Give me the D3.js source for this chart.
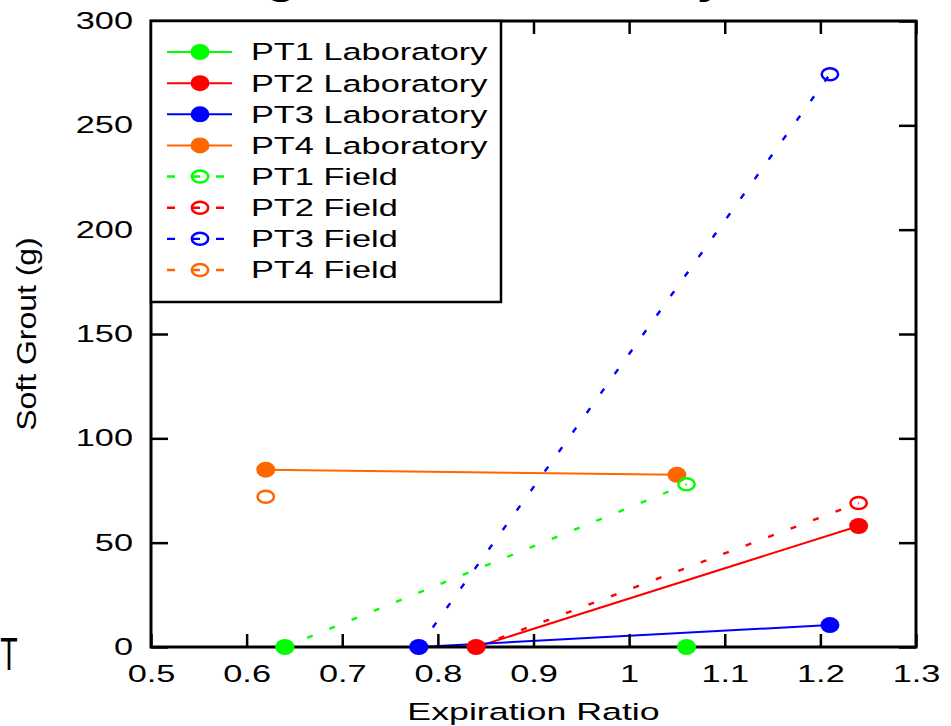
<!DOCTYPE html>
<html>
<head>
<meta charset="utf-8">
<script src="https://cdn.jsdelivr.net/npm/d3@7.9.0/dist/d3.min.js"></script>
<style>
  html, body { margin: 0; padding: 0; background: #fff; }
  svg { display: block; font-family: "Liberation Sans", Arial, sans-serif; }
</style>
</head>
<body>
<svg id="chart" width="951" height="726"></svg>
<script>
// ---- data ----
const seriesNames = ['PT1 Laboratory', 'PT2 Laboratory', 'PT3 Laboratory', 'PT4 Laboratory',
                     'PT1 Field', 'PT2 Field', 'PT3 Field', 'PT4 Field'];
const seriesColors = ['#00ff00', '#ff0000', '#0000ff', '#ff6600',
                      '#00ff00', '#ff0000', '#0000ff', '#ff6600'];
const seriesKind = ['lab', 'lab', 'lab', 'lab', 'field', 'field', 'field', 'field'];

const pt1LabX = [0.64, 1.06];   const pt1LabY = [0, 0];
const pt2LabX = [0.84, 1.24];   const pt2LabY = [0, 58];
const pt3LabX = [0.78, 1.21];   const pt3LabY = [0, 10.5];
const pt4LabX = [0.62, 1.05];   const pt4LabY = [85, 82.5];
const pt1FieldX = [0.64, 1.06]; const pt1FieldY = [0, 78];
const pt2FieldX = [0.84, 1.24]; const pt2FieldY = [0, 69];
const pt3FieldX = [0.78, 1.21]; const pt3FieldY = [0, 274.5];
const pt4FieldX = [0.62];       const pt4FieldY = [72];

const xTickValues = [0.5, 0.6, 0.7, 0.8, 0.9, 1.0, 1.1, 1.2, 1.3];
const xTickLabels = ['0.5', '0.6', '0.7', '0.8', '0.9', '1', '1.1', '1.2', '1.3'];
const yTickValues = [0, 50, 100, 150, 200, 250, 300];
const yTickLabels = ['0', '50', '100', '150', '200', '250', '300'];

const xs = [pt1LabX, pt2LabX, pt3LabX, pt4LabX, pt1FieldX, pt2FieldX, pt3FieldX, pt4FieldX];
const ys = [pt1LabY, pt2LabY, pt3LabY, pt4LabY, pt1FieldY, pt2FieldY, pt3FieldY, pt4FieldY];
const series = seriesNames.map((name, i) => ({
  name,
  color: seriesColors[i],
  kind: seriesKind[i],
  points: xs[i].map((x, j) => ({ x, y: ys[i][j] })),
}));

// ---- layout ----
const plot = { left: 151, right: 916, top: 21, bottom: 647 };
const FONT = 23.5;
const SX = 1.46; // text in the picture is drawn wide

const svg = d3.select('#chart');

const x = d3.scaleLinear().domain([0.5, 1.3]).range([plot.left, plot.right]);
const y = d3.scaleLinear().domain([0, 300]).range([plot.bottom, plot.top]);

function wideText(parent, px, py, str, opts = {}) {
  const { size = FONT, sx = SX, sy = 1, anchor = 'start', rotate = 0, weight = 'normal' } = opts;
  return parent.append('text')
    .attr('transform', `translate(${px},${py}) rotate(${rotate}) scale(${sx},${sy})`)
    .attr('text-anchor', anchor)
    .attr('font-size', size)
    .attr('font-weight', weight)
    .attr('fill', '#000')
    .text(str);
}

// clipped title (only descenders remain in view) and a stray glyph at left
wideText(svg, 104, -5.5, 'Grouting: Lab vs Field Study', { size: 31, weight: 'bold' });
wideText(svg, 9, 670, 'T', { size: 46, sx: 0.62, anchor: 'middle' });

// ---- data lines ----
const line = d3.line().x(d => x(d.x)).y(d => y(d.y));

const lineLayer = svg.append('g');
const axes = svg.append('g');
const markerLayer = svg.append('g');

series.forEach(s => {
  if (s.points.length < 2) return;
  const path = lineLayer.append('path')
    .datum(s.points)
    .attr('d', line)
    .attr('fill', 'none')
    .attr('stroke', s.color);
  if (s.kind === 'lab') {
    path.attr('stroke-width', 2);
  } else {
    path.attr('stroke-width', 2.4).attr('stroke-dasharray', '6,18');
  }
});

// ---- axes (inward ticks on all sides) ----
function styleAxis(g) {
  g.select('.domain').remove();
  g.selectAll('.tick line').attr('stroke', '#000').attr('stroke-width', 2.5);
  g.attr('font-family', null).attr('font-size', null);
}

axes.append('g')
  .attr('transform', `translate(0,${plot.bottom})`)
  .call(d3.axisBottom(x).tickValues(xTickValues)
    .tickFormat((d, i) => xTickLabels[i])
    .tickSizeInner(-13).tickSizeOuter(0).tickPadding(18))
  .call(styleAxis)
  .call(g => g.selectAll('.tick text')
    .attr('font-size', FONT).attr('fill', '#000')
    .attr('transform', `scale(${SX},1)`));

axes.append('g')
  .attr('transform', `translate(0,${plot.top})`)
  .call(d3.axisTop(x).tickValues(xTickValues).tickFormat('')
    .tickSizeInner(-13).tickSizeOuter(0))
  .call(styleAxis);

axes.append('g')
  .attr('transform', `translate(${plot.left},0)`)
  .call(d3.axisLeft(y).tickValues(yTickValues)
    .tickFormat((d, i) => yTickLabels[i])
    .tickSizeInner(-17).tickSizeOuter(0).tickPadding(18 / SX))
  .call(styleAxis)
  .call(g => g.selectAll('.tick text')
    .attr('font-size', FONT).attr('fill', '#000')
    .attr('transform', `scale(${SX},1)`));

axes.append('g')
  .attr('transform', `translate(${plot.right},0)`)
  .call(d3.axisRight(y).tickValues(yTickValues).tickFormat('')
    .tickSizeInner(-17).tickSizeOuter(0))
  .call(styleAxis);

axes.append('rect')
  .attr('x', plot.left).attr('y', plot.top)
  .attr('width', plot.right - plot.left).attr('height', plot.bottom - plot.top)
  .attr('fill', 'none').attr('stroke', '#000').attr('stroke-width', 3);

// ---- markers ----
function drawMarker(g, cx, cy, s) {
  if (s.kind === 'lab') {
    g.append('ellipse').attr('cx', cx).attr('cy', cy)
      .attr('rx', 9.5).attr('ry', 8).attr('fill', s.color);
  } else {
    g.append('ellipse').attr('cx', cx).attr('cy', cy)
      .attr('rx', 8.2).attr('ry', 6).attr('fill', 'none')
      .attr('stroke', s.color).attr('stroke-width', 2.5);
  }
}

series.forEach(s => {
  s.points.forEach(p => drawMarker(markerLayer, x(p.x), y(p.y), s));
});

// axis titles
wideText(svg, (plot.left + plot.right) / 2, 720, 'Expiration Ratio', { anchor: 'middle', size: 24.5 });
wideText(svg, 36, (plot.top + plot.bottom) / 2, 'Soft Grout (g)',
  { anchor: 'middle', rotate: -90, sx: 1.36, sy: 1.2, size: 23.5 });

// ---- legend ----
const legend = svg.append('g');
legend.append('rect')
  .attr('x', plot.left).attr('y', plot.top)
  .attr('width', 350).attr('height', 281)
  .attr('fill', '#fff').attr('stroke', '#000').attr('stroke-width', 2.5);

const legendRow = d3.scaleLinear().domain([0, 7]).range([52, 270]);
series.forEach((s, i) => {
  const cy = legendRow(i);
  const ln = legend.append('line')
    .attr('x1', 167).attr('x2', 232).attr('y1', cy).attr('y2', cy)
    .attr('stroke', s.color);
  if (s.kind === 'lab') ln.attr('stroke-width', 2);
  else ln.attr('stroke-width', 2.4).attr('stroke-dasharray', '8,16,9,16,8');
  drawMarker(legend, 200, cy, s);
  wideText(legend, 251, cy + 8.4, s.name, { size: FONT });
});
</script>
</body>
</html>
